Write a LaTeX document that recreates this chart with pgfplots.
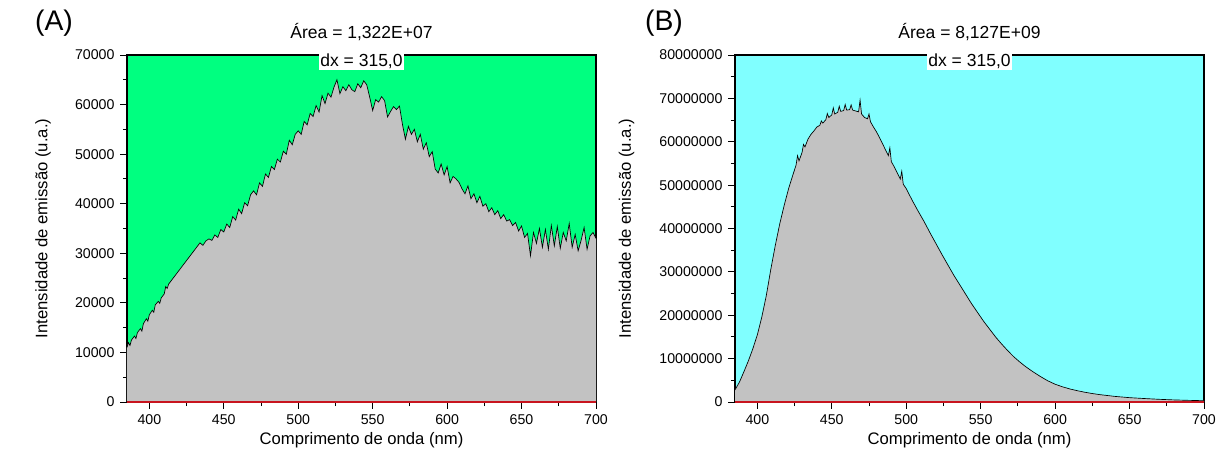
\documentclass[border=0pt]{standalone}
\usepackage{pgfplots}
\pgfplotsset{compat=1.18}
\usepackage{fontspec}
\setmainfont{Liberation Sans}
\definecolor{bgA}{RGB}{0,255,128}
\definecolor{bgB}{RGB}{128,255,255}
\definecolor{fillg}{RGB}{194,194,194}
\definecolor{baser}{RGB}{200,20,30}
\pgfplotsset{
  myax/.style={
    anchor=south west,
    scale only axis,
    clip mode=individual,
    width=281.4pt, height=208.2pt,
    xmin=385, xmax=700,
    ymin=0,
    xtick={400,450,...,700},
    minor x tick num=1,
    minor y tick num=1,
    tick align=outside,
    xtick pos=bottom, ytick pos=left,
    major tick length=4pt,
    minor tick length=2.5pt,
    every tick/.style={black, line width=0.6pt},
    axis line style={black, line width=0.7pt},
    tick label style={font=\fontsize{8.5}{9}\selectfont},
    /pgf/number format/assume math mode=true,
    /pgf/number format/1000 sep={},
    /pgf/number format/fixed,
    scaled y ticks=false,
    label style={font=\fontsize{10}{12}\selectfont},
    xlabel={Comprimento de onda (nm)},
    ylabel={Intensidade de emissão (u.a.)},
    xlabel style={at={(axis description cs:0.5,-0.11)}, anchor=center},
  }
}
\pgfplotstableread{
x y
385 11000
386 12000
387 11400
388 12500
390 13300
391 12800
392 14000
394 14800
395 14300
396 15800
398 16800
399 16300
400 17600
402 18500
403 18100
404 19600
406 20300
407 19900
408 21000
410 21800
411 23300
412 22900
413 23800
434 32100
436 31600
438 32500
440 32900
442 32600
444 33700
446 33200
448 34800
450 34300
452 35900
454 35200
456 37400
458 36700
460 38900
462 38000
464 40200
466 39600
468 41800
470 42600
472 41800
474 44200
476 43500
478 46000
480 45300
482 47500
484 46900
486 49000
488 48400
490 50600
492 50000
494 52800
496 51900
498 54000
500 54700
502 54000
504 56600
506 55900
508 58200
510 57600
512 59800
514 58500
516 61800
518 60200
520 62300
522 61500
524 63500
526 65000
528 62200
530 63600
532 62800
534 64000
536 63000
538 62600
540 64200
542 63400
544 64800
546 64000
548 61500
550 58800
552 61000
554 60500
556 61600
558 60800
560 57500
562 58600
564 59600
566 59000
568 59700
570 56000
572 53000
574 55600
576 54000
578 55000
580 52500
582 54000
584 51000
586 52300
588 49500
590 50500
592 47000
594 46200
596 48000
598 45800
600 47500
602 44200
604 45500
606 45000
608 44300
610 43000
612 42000
614 43600
616 41000
618 42000
620 40200
622 41500
624 39500
626 40000
628 38400
630 39200
632 37800
634 38600
636 37000
638 37800
640 36500
642 36800
644 35600
646 36200
648 34500
650 35500
652 33200
654 34000
656 29500
658 34200
660 32000
662 35000
664 31200
666 34800
668 30800
670 35600
672 31500
674 35400
676 31000
678 34200
680 32500
682 36000
684 31200
686 33800
688 30500
690 32600
692 35200
694 30800
696 33500
698 34200
700 33000
}\dataA
\pgfplotstableread{
x y
385 2800000
388 4600000
391 7000000
394 9500000
397 12300000
400 15500000
403 19600000
406 24500000
409 30500000
412 36000000
415 41000000
418 45300000
421 49200000
424 52500000
426 54600000
427 56800000
428 55600000
430 57500000
431 59400000
432 58800000
434 60600000
436 61700000
438 62500000
440 63400000
442 63800000
443 64800000
444 64300000
446 65100000
447 66500000
448 65600000
450 66200000
451 67800000
452 66400000
454 66800000
455 68200000
456 67000000
458 67200000
459 68600000
460 67300000
462 67400000
463 68500000
464 67300000
466 67100000
468 66900000
469 69600000
470 66400000
472 65600000
474 65300000
475 66400000
476 64600000
478 63400000
480 62300000
482 61000000
484 59600000
486 58200000
488 56800000
489 58600000
490 55400000
492 54200000
494 52800000
496 51400000
497 53200000
498 50200000
500 49200000
504 46500000
508 44000000
512 41600000
516 39000000
520 36500000
524 34000000
528 31600000
532 29200000
536 27000000
540 24800000
544 22600000
548 20600000
552 18600000
556 16800000
560 15000000
564 13400000
568 11900000
572 10500000
576 9300000
580 8200000
585 7000000
590 5900000
595 4900000
600 4100000
605 3500000
610 3000000
615 2600000
620 2250000
625 1950000
630 1700000
640 1300000
650 1000000
660 800000
670 620000
680 480000
690 380000
700 300000
}\dataB
\begin{document}
\begin{tikzpicture}
\useasboundingbox (0,0) rectangle (733.2pt,285pt);
% Panel A
\begin{axis}[myax,
  at={(76.2pt,43.8pt)},
  ymax=70000,
  ytick={0,10000,...,70000},
  axis background/.style={fill=bgA},
  ylabel style={at={(axis description cs:-0.179,0.5)}, anchor=center},
]
\addplot[draw=none, fill=fillg] table[x=x,y=y]{\dataA} \closedcycle;
\addplot[black, line width=0.4pt] table[x=x,y=y]{\dataA};
\addplot[baser, line width=1pt] coordinates {(385,0) (700,0)};
\node[font=\fontsize{10.5}{12}\selectfont, anchor=center] at (rel axis cs:0.5,1) [yshift=13.8pt] {Área = 1,322E+07};
\node[font=\fontsize{10.5}{12}\selectfont, fill=white, inner sep=1pt, anchor=center] at (rel axis cs:0.5,1) [yshift=-3.6pt] {dx = 315,0};
\end{axis}
% Panel B
\begin{axis}[myax,
  at={(441pt,43.8pt)},
  ymax=80000000,
  ytick={0,10000000,...,80000000},
  axis background/.style={fill=bgB},
  ylabel style={at={(axis description cs:-0.231,0.5)}, anchor=center},
]
\addplot[draw=none, fill=fillg] table[x=x,y=y]{\dataB} \closedcycle;
\addplot[black, line width=0.4pt] table[x=x,y=y]{\dataB};
\addplot[baser, line width=1pt] coordinates {(385,0) (700,0)};
\node[font=\fontsize{10.5}{12}\selectfont, anchor=center] at (rel axis cs:0.5,1) [yshift=13.8pt] {Área = 8,127E+09};
\node[font=\fontsize{10.5}{12}\selectfont, fill=white, inner sep=1pt, anchor=center] at (rel axis cs:0.5,1) [yshift=-3.6pt] {dx = 315,0};
\end{axis}
\node[font=\fontsize{17}{19}\selectfont, anchor=center] at (32.4pt,271.2pt) {(A)};
\node[font=\fontsize{17}{19}\selectfont, anchor=center] at (398.4pt,271.2pt) {(B)};
\end{tikzpicture}
\end{document}
